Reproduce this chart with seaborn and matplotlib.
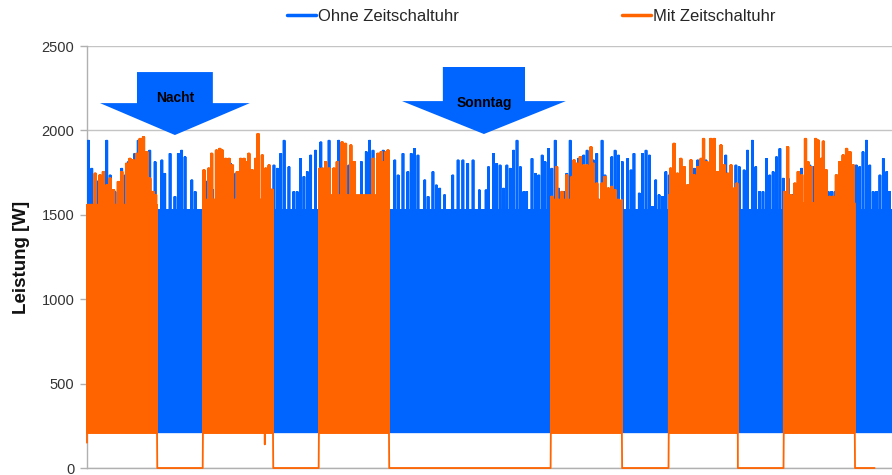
import numpy as np
import matplotlib
matplotlib.use("Agg")
import matplotlib.pyplot as plt
from matplotlib.lines import Line2D
from matplotlib.patches import FancyArrow
import seaborn as sns

# Zeit in Stunden (eine Woche), Leistung in W
blue_peak_h = [0.3, 1.0, 2.0, 3.0, 4.1, 4.8, 5.8, 7.2, 7.9, 8.6, 9.9, 10.6, 11.3, 12.0, 13.0, 14.1,
               15.5, 16.1, 17.2, 18.2, 18.9, 19.6, 20.3, 21.7, 22.4, 24.5, 26.0,
               29.7, 30.8, 32.5, 35.0, 37.0, 38.7, 39.4, 40.1, 40.8, 41.8, 42.8, 43.5, 44.2, 44.9, 45.6,
               46.3, 47.3, 48.4, 49.0, 50.1, 51.1, 52.1, 53.2, 54.2, 54.9,
               55.4, 56.8, 57.8, 58.5, 59.2, 60.6, 61.3, 61.9, 63.7, 64.4, 65.4, 66.4, 67.1, 67.8, 68.5,
               69.9, 70.6, 71.6, 72.3, 73.0, 74.0, 75.7, 76.8, 77.8, 78.8, 79.9, 81.2, 82.6,
               83.1, 84.1, 84.8, 85.5, 86.2, 86.9, 87.6, 88.3, 89.0, 89.7, 90.4, 91.0, 92.1, 92.8, 93.5,
               94.2, 94.8, 95.5, 96.2, 96.9, 97.6, 98.6, 99.3, 100.0, 100.8, 101.7, 102.8, 103.5, 104.8,
               105.5, 106.6, 107.2, 108.6, 109.3, 110.0,
               110.8, 111.9, 112.6, 113.2, 114.3, 115.0, 115.7, 116.4, 117.0, 117.7, 118.4, 119.1, 119.8,
               120.5, 121.5, 122.6, 123.6, 125.0, 125.7, 126.4, 127.4, 128.1, 129.1, 130.5, 131.5, 132.2,
               133.3, 134.3, 135.0, 136.0, 136.7, 137.7, 138.4,
               139.2, 139.9, 140.6, 141.3, 142.0, 142.7, 143.4, 144.1, 145.1, 146.1, 146.8, 147.9, 148.9,
               149.6, 150.3, 151.3, 152.0, 152.7, 153.4, 154.1, 154.8, 155.8, 156.5, 157.2, 157.9, 158.6,
               159.2, 159.9, 160.6, 161.3, 162.0, 162.7, 163.4, 164.1, 164.8, 165.5, 166.1]
blue_peak_w = [1941, 1775, 1700, 1650, 1941, 1735, 1637, 1775, 1735, 1814, 1863, 1941, 1873, 1843, 1882, 1814,
               1824, 1745, 1863, 1608, 1863, 1882, 1843, 1706, 1637, 1700, 1650,
               1804, 1745, 1700, 1750, 1650, 1794, 1775, 1863, 1941, 1784, 1637, 1637, 1833, 1726, 1755,
               1853, 1882, 1931, 1775, 1941, 1755, 1941, 1922, 1794, 1696,
               1775, 1814, 1873, 1941, 1882, 1824, 1882, 1814, 1824, 1735, 1863, 1755, 1863, 1892, 1853,
               1706, 1608, 1755, 1676, 1657, 1618, 1735, 1824, 1824, 1804, 1824, 1647, 1647,
               1784, 1863, 1804, 1794, 1657, 1794, 1775, 1882, 1941, 1784, 1637, 1637, 1833, 1745, 1735,
               1853, 1814, 1892, 1775, 1941, 1657, 1637, 1745, 1941, 1824, 1833, 1853, 1882, 1824,
               1863, 1941, 1735, 1843, 1882, 1853,
               1814, 1833, 1765, 1863, 1628, 1863, 1882, 1853, 1549, 1706, 1618, 1608, 1755,
               1735, 1696, 1706, 1667, 1824, 1775, 1824, 1775, 1824, 1706, 1647, 1637, 1853,
               1784, 1794, 1784, 1765, 1882, 1941, 1784,
               1637, 1637, 1833, 1735, 1755, 1843, 1892, 1716, 1716, 1618, 1676, 1775, 1745,
               1794, 1784, 1637, 1618, 1637, 1637, 1637, 1637, 1775, 1853, 1873, 1637, 1745,
               1794, 1784, 1873, 1941, 1794, 1637, 1637, 1735, 1833, 1755, 1637]

orange_peak_h = [1.7, 2.7, 3.4, 4.1, 4.8, 5.5, 6.5, 7.2, 8.2, 8.9, 9.6, 10.3, 11.0, 11.7, 12.4, 13.0, 13.7, 14.2,
                 24.2, 25.2, 25.8, 26.8, 27.5, 28.0, 28.7, 29.4, 30.1, 31.1, 31.8, 32.5, 33.2, 33.5, 34.2,
                 34.9, 35.4, 36.3, 37.0, 37.7, 38.3,
                 48.0, 48.7, 49.4, 50.1, 51.1, 51.8, 52.8, 53.5, 54.6, 55.3, 59.2, 60.2, 60.9, 61.6, 61.9, 62.3,
                 96.2, 97.2, 98.3, 99.3, 100.4, 100.8, 101.4, 102.1, 102.8, 103.5, 104.3, 104.8, 105.5,
                 106.6, 107.2, 107.9, 108.6, 109.3, 110.4,
                 120.6, 120.8, 121.5, 122.2, 122.9, 123.6, 124.3, 125.0, 125.7, 126.4, 127.1, 127.6, 128.3,
                 129.1, 129.8, 130.5, 131.2, 131.9, 132.6, 133.3, 134.0, 134.5,
                 144.4, 145.0, 145.7, 146.5, 147.2, 147.9, 148.7, 149.2, 149.9, 150.8, 151.3, 152.0, 152.4,
                 153.0, 153.7, 154.4, 155.1, 155.8, 156.5, 157.2, 157.9, 158.6]
orange_peak_w = [1745, 1735, 1755, 1676, 1716, 1647, 1696, 1755, 1804, 1833, 1824, 1863, 1951, 1961, 1873, 1716, 1637, 1618,
                 1765, 1775, 1863, 1882, 1892, 1882, 1833, 1833, 1794, 1755, 1833, 1833, 1814, 1863, 1765,
                 1833, 1980, 1853, 1775, 1794, 1650,
                 1775, 1775, 1814, 1775, 1775, 1814, 1931, 1922, 1912, 1814, 1833, 1863, 1873, 1814, 1873, 1882,
                 1608, 1784, 1637, 1735, 1726, 1824, 1804, 1843, 1794, 1794, 1902, 1804, 1686,
                 1686, 1726, 1657, 1667, 1647, 1579,
                 1618, 1775, 1922, 1745, 1833, 1784, 1676, 1824, 1735, 1784, 1833, 1951, 1814,
                 1951, 1951, 1755, 1912, 1794, 1745, 1794, 1657, 1686,
                 1637, 1902, 1618, 1686, 1755, 1735, 1951, 1814, 1784, 1951, 1941, 1833, 1935,
                 1765, 1608, 1608, 1735, 1814, 1853, 1892, 1873, 1794]

# Zeitschaltuhr: Einschaltzeiten (h) und Grundlast je Block (W)
orange_on_start = [0.0, 24.0, 48.0, 96.0, 120.4, 144.2]
orange_on_end = [14.5, 38.5, 62.5, 110.7, 134.7, 158.9]
orange_base = [1560, 1590, 1615, 1590, 1580, 1570]
orange_dip_h = [0.0, 36.8]
orange_dip_w = [150, 140]

blue_base = 1530
low_level = 210
orange_end_h = 163.0
week_end_h = 166.6

yticks = [0, 500, 1000, 1500, 2000, 2500]

blue = "#0064ff"
orange = "#ff6400"

sns.set_theme(style="white")
plt.rcParams["font.family"] = ["Liberation Sans", "DejaVu Sans"]

hours = np.arange(0, week_end_h + 0.5, 0.05)
odd = np.arange(len(hours)) % 2 == 1

blue_top = np.full(hours.shape, float(blue_base))
for h, w in zip(blue_peak_h, blue_peak_w):
    blue_top[np.abs(hours - h) <= 0.18] = w
blue_vals = np.where(odd, blue_top, low_level)

orange_top = np.zeros(hours.shape)
orange_low = np.zeros(hours.shape)
for s, e, b in zip(orange_on_start, orange_on_end, orange_base):
    on = (hours >= s) & (hours <= e)
    orange_top[on] = b
    orange_low[on] = low_level
for h, w in zip(orange_peak_h, orange_peak_w):
    sel = np.abs(hours - h) <= 0.18
    orange_top[sel & (orange_top > 0)] = w
orange_vals = np.where(odd, orange_top, orange_low)
for h, w in zip(orange_dip_h, orange_dip_w):
    orange_vals[np.argmin(np.abs(hours - h))] = w
keep = hours <= orange_end_h

fig = plt.figure(figsize=(8.92, 4.75), dpi=100)
ax = fig.add_axes([0.0975, 0.0147, 0.9025, 0.8883])

sns.lineplot(x=hours, y=blue_vals, color=blue, lw=0.9, estimator=None, sort=False, ax=ax, zorder=3)
sns.lineplot(x=hours[keep], y=orange_vals[keep], color=orange, lw=1.3, estimator=None, sort=False,
             ax=ax, zorder=4, clip_on=False)

ax.set_xlim(0, week_end_h)
ax.set_ylim(0, 2500)
ax.set_yticks(yticks)
ax.set_xticks([])
ax.yaxis.grid(True, color="#c4c4c4", lw=1)
ax.set_axisbelow(True)
for side in ["top", "right"]:
    ax.spines[side].set_visible(False)
for side in ["left", "bottom"]:
    ax.spines[side].set_color("#b0b0b0")
    ax.spines[side].set_linewidth(1)
ax.tick_params(axis="y", left=True, length=5, width=1, color="#b0b0b0", labelsize=10.5,
               labelcolor="#333333", pad=4)
ax.set_ylabel("Leistung [W]", fontsize=13.5, fontweight="bold", color="#111111", labelpad=8)

# Markierungen Nacht / Sonntag
ax.add_patch(FancyArrow(18.2, 2346, 0, -373, width=15.7, head_width=31.0, head_length=189,
                        length_includes_head=True, color=blue, lw=0, zorder=6))
ax.add_patch(FancyArrow(82.15, 2376, 0, -397, width=17.0, head_width=33.9, head_length=195,
                        length_includes_head=True, color=blue, lw=0, zorder=6))
ax.text(18.2, 2195, "Nacht", ha="center", va="center", fontsize=10, fontweight="bold", color="black", zorder=7)
ax.text(82.15, 2165, "Sonntag", ha="center", va="center", fontsize=10, fontweight="bold", color="black", zorder=7)

handles = [Line2D([], [], color=blue, lw=2.5), Line2D([], [], color=orange, lw=2.5)]
fig.legend(handles, ["Ohne Zeitschaltuhr", "Mit Zeitschaltuhr"], loc="upper center",
           bbox_to_anchor=(0.596, 1.013), ncol=2, frameon=False, fontsize=12, handlelength=1.7,
           handletextpad=0.15, columnspacing=9.8)

fig.savefig("out.png", dpi=100)
